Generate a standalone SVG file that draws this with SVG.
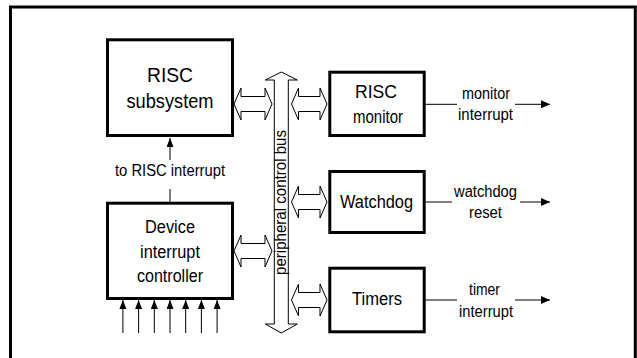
<svg xmlns="http://www.w3.org/2000/svg" width="637" height="358" viewBox="0 0 637 358">
<defs>
<style>
.box{fill:#fff;stroke:#000;stroke-width:3}
.frame{fill:none;stroke:#000;stroke-width:3}
.dbl{fill:#fff;stroke:#000;stroke-width:1;stroke-linejoin:miter}
.ln{fill:none;stroke:#000;stroke-width:1}
.lbl{font-family:"Liberation Sans",Arial,sans-serif;fill:#000;text-anchor:middle}
.big{font-size:21px}
.mid{font-size:18px}
.sm{font-size:16px}
</style>
<marker id="ah" markerUnits="userSpaceOnUse" markerWidth="10" markerHeight="8" refX="9" refY="4" orient="auto">
<path d="M0,0 L9,4 L0,8 Z" fill="#000"/>
</marker>
<marker id="ahs" markerUnits="userSpaceOnUse" markerWidth="9" markerHeight="8" refX="9" refY="3.5" orient="auto">
<path d="M0,0 L9,3.5 L0,7 Z" fill="#000"/>
</marker>
</defs>
<rect width="637" height="358" fill="#fff"/>
<path class="frame" d="M10.5,360 V7 H635.3 V360"/>

<g id="connectors">
<!-- bus -->
<polygon class="dbl" points="281.3,72 297.3,80 288.3,80 288.3,324 297.3,324 281.3,333 265.3,324 274.3,324 274.3,80 265.3,80"/>
<!-- RISC subsystem to bus -->
<polygon class="dbl" points="234,104 241,88 241,96.5 265,96.5 265,88 272,104 265,120 265,111.5 241,111.5 241,120"/>
<!-- Device to bus -->
<polygon class="dbl" points="234,251 241,235 241,243.5 265,243.5 265,235 272,251 265,267 265,258.5 241,258.5 241,267"/>
<!-- bus to RISC monitor -->
<polygon class="dbl" points="291.5,104 298.5,88 298.5,96.5 320,96.5 320,88 327,104 320,120 320,111.5 298.5,111.5 298.5,120"/>
<!-- bus to Watchdog -->
<polygon class="dbl" points="291.5,202 298.5,186 298.5,194.5 320,194.5 320,186 327,202 320,218 320,209.5 298.5,209.5 298.5,218"/>
<!-- bus to Timers -->
<polygon class="dbl" points="291.5,300 298.5,284 298.5,292.5 320,292.5 320,284 327,300 320,316 320,307.5 298.5,307.5 298.5,316"/>
<!-- to RISC interrupt -->
<line class="ln" x1="170" y1="201.7" x2="170" y2="189"/>
<line class="ln" x1="170" y1="160" x2="170" y2="138" marker-end="url(#ahs)"/>
<!-- device interrupt inputs -->
<line class="ln" x1="122.9" y1="333" x2="122.9" y2="300" marker-end="url(#ahs)"/>
<line class="ln" x1="138.6" y1="333" x2="138.6" y2="300" marker-end="url(#ahs)"/>
<line class="ln" x1="154.3" y1="333" x2="154.3" y2="300" marker-end="url(#ahs)"/>
<line class="ln" x1="170" y1="333" x2="170" y2="300" marker-end="url(#ahs)"/>
<line class="ln" x1="185.7" y1="333" x2="185.7" y2="300" marker-end="url(#ahs)"/>
<line class="ln" x1="201.4" y1="333" x2="201.4" y2="300" marker-end="url(#ahs)"/>
<line class="ln" x1="217.1" y1="333" x2="217.1" y2="300" marker-end="url(#ahs)"/>
<!-- outputs -->
<line class="ln" x1="425.7" y1="104.3" x2="457" y2="104.3"/>
<line class="ln" x1="515" y1="104.3" x2="550" y2="104.3" marker-end="url(#ah)"/>
<line class="ln" x1="425.7" y1="202" x2="452" y2="202"/>
<line class="ln" x1="520" y1="202" x2="550" y2="202" marker-end="url(#ah)"/>
<line class="ln" x1="425.7" y1="300" x2="457" y2="300"/>
<line class="ln" x1="515" y1="300" x2="550" y2="300" marker-end="url(#ah)"/>
</g>

<text class="lbl sm" transform="translate(286,275) rotate(-90)" style="text-anchor:start" textLength="145" lengthAdjust="spacingAndGlyphs">peripheral control bus</text>

<g id="risc-subsystem">
<rect class="box" x="107.5" y="39.8" width="125" height="95.7"/>
<text class="lbl big" x="170" y="82" textLength="46" lengthAdjust="spacingAndGlyphs">RISC</text>
<text class="lbl big" x="170" y="108" textLength="87" lengthAdjust="spacingAndGlyphs">subsystem</text>
</g>

<g id="device-interrupt-controller">
<rect class="box" x="107.5" y="203.2" width="125" height="95.3"/>
<text class="lbl mid" x="170" y="233" textLength="50" lengthAdjust="spacingAndGlyphs">Device</text>
<text class="lbl mid" x="170" y="258" textLength="60" lengthAdjust="spacingAndGlyphs">interrupt</text>
<text class="lbl mid" x="170" y="282" textLength="66" lengthAdjust="spacingAndGlyphs">controller</text>
</g>

<g id="risc-monitor">
<rect class="box" x="329.8" y="72.2" width="94.4" height="63.3"/>
<text class="lbl mid" x="376" y="98" textLength="42" lengthAdjust="spacingAndGlyphs">RISC</text>
<text class="lbl mid" x="378" y="123" textLength="50" lengthAdjust="spacingAndGlyphs">monitor</text>
</g>

<g id="watchdog">
<rect class="box" x="329.8" y="171.5" width="94.4" height="61"/>
<text class="lbl mid" x="376.5" y="208" textLength="73" lengthAdjust="spacingAndGlyphs">Watchdog</text>
</g>

<g id="timers">
<rect class="box" x="329.8" y="268.2" width="94.4" height="63.6"/>
<text class="lbl mid" x="377" y="305" textLength="50" lengthAdjust="spacingAndGlyphs">Timers</text>
</g>

<g id="labels">
<text class="lbl sm" x="170" y="176" textLength="110" lengthAdjust="spacingAndGlyphs">to RISC interrupt</text>
<text class="lbl sm" x="486" y="99" textLength="48" lengthAdjust="spacingAndGlyphs">monitor</text>
<text class="lbl sm" x="485.5" y="120" textLength="55" lengthAdjust="spacingAndGlyphs">interrupt</text>
<text class="lbl sm" x="485.5" y="197" textLength="63" lengthAdjust="spacingAndGlyphs">watchdog</text>
<text class="lbl sm" x="485.5" y="218" textLength="33" lengthAdjust="spacingAndGlyphs">reset</text>
<text class="lbl sm" x="484.5" y="295" textLength="31" lengthAdjust="spacingAndGlyphs">timer</text>
<text class="lbl sm" x="486" y="317" textLength="54" lengthAdjust="spacingAndGlyphs">interrupt</text>
</g>
</svg>
